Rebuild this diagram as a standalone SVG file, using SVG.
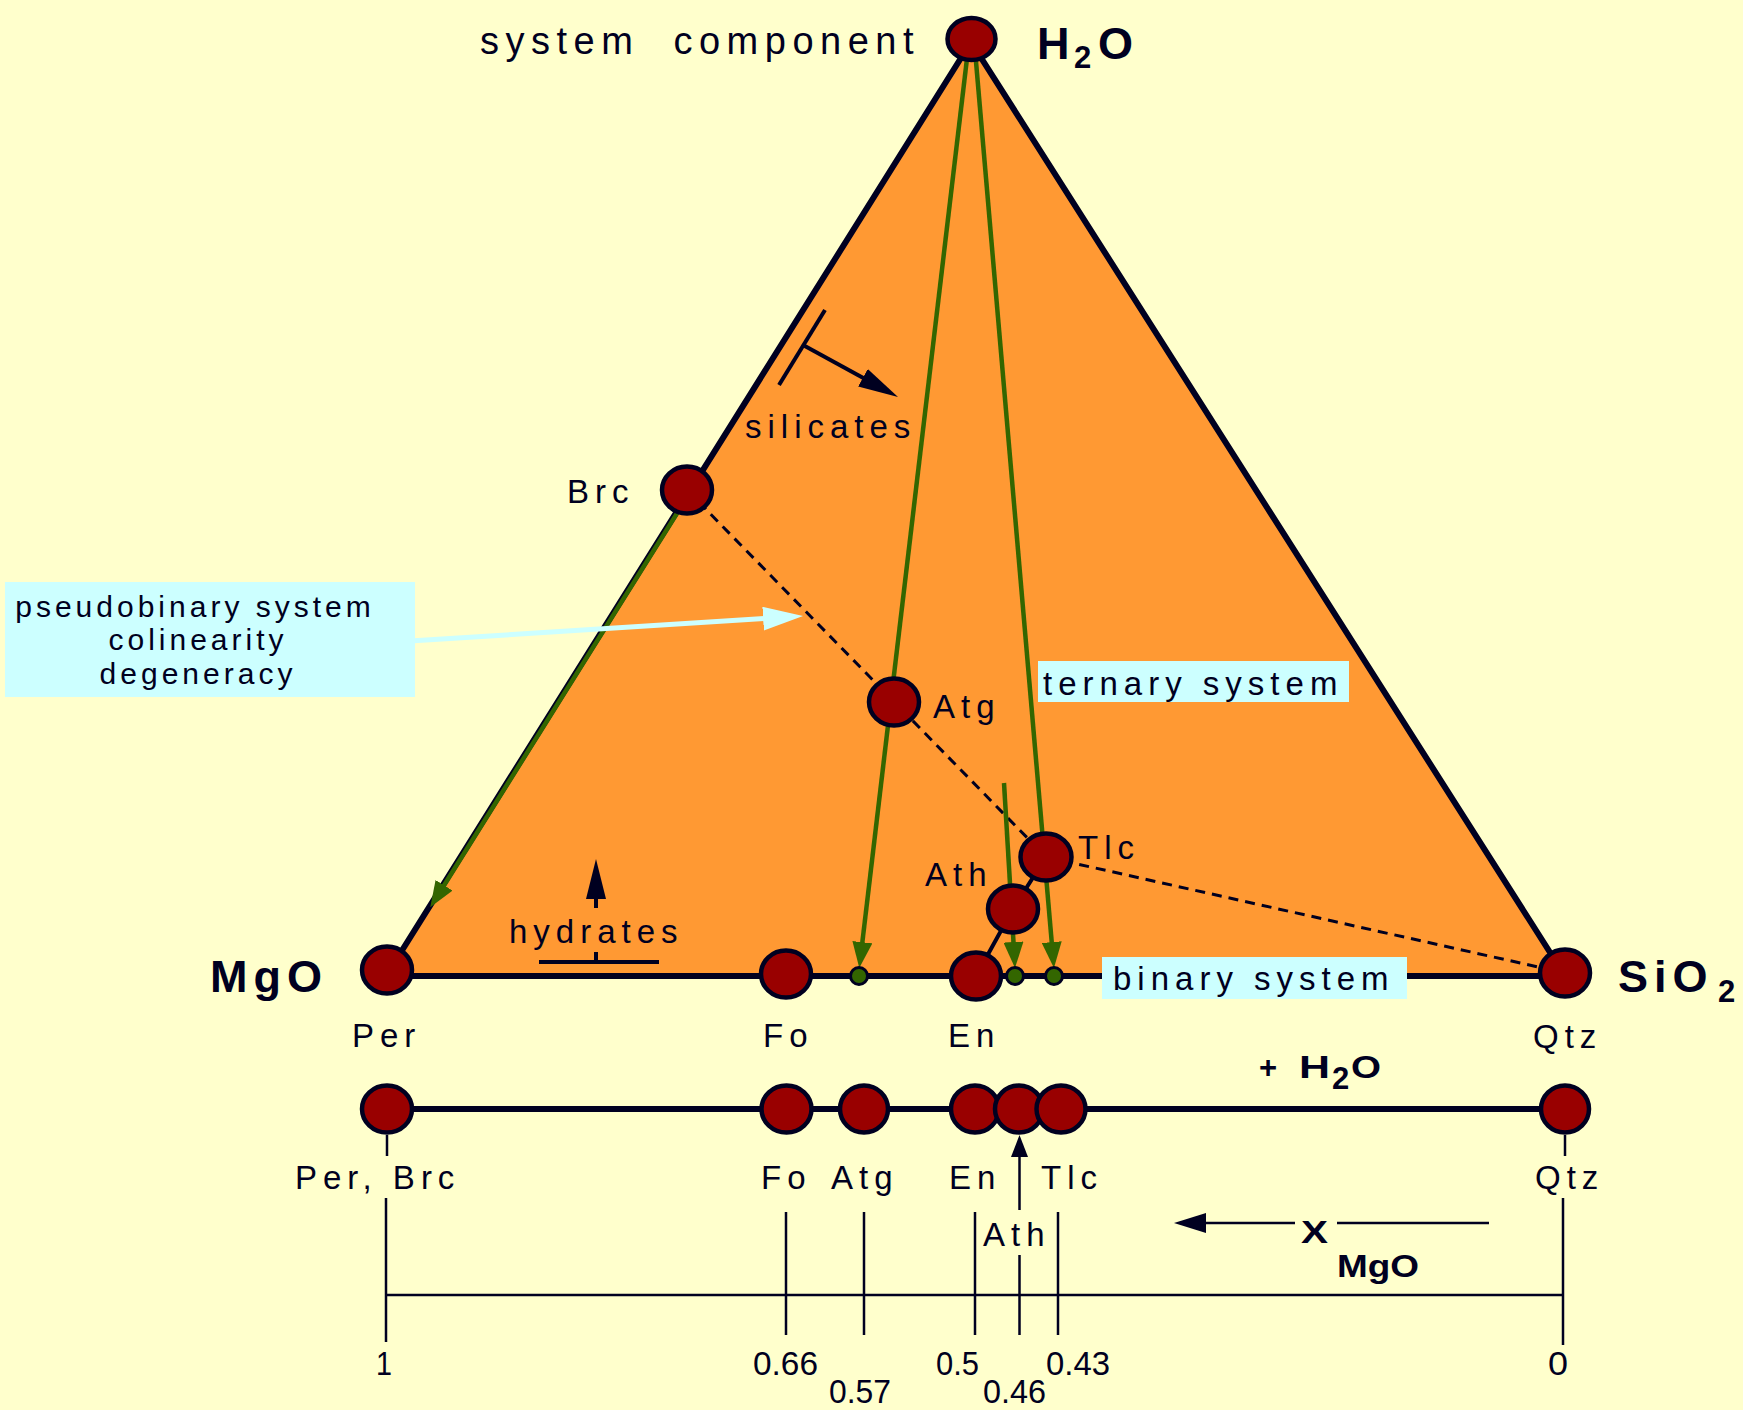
<svg xmlns="http://www.w3.org/2000/svg" width="1743" height="1410" viewBox="0 0 1743 1410">
<style>
text { font-family: "Liberation Sans", Arial, sans-serif; fill: #000020; }
.lbl { font-size: 33px; letter-spacing: 6px; }
.top { font-size: 38px; letter-spacing: 6.5px; }
.box-t { font-size: 30px; letter-spacing: 4px; }
.big { font-size: 45px; font-weight: bold; letter-spacing: 6px; }
.sub { font-size: 31px; font-weight: bold; }
.num { font-size: 33px; }
.node { fill: #990000; stroke: #000020; stroke-width: 4.5; }
.gdot { fill: #336600; stroke: #000020; stroke-width: 3; }
.tri { fill: #FF9933; stroke: #000020; stroke-width: 6; stroke-linejoin: round; }
.dash { stroke: #000020; stroke-width: 3; stroke-dasharray: 10 7; fill: none; }
.green { stroke: #336600; stroke-width: 4.5; fill: none; }
.blk { stroke: #000020; stroke-width: 4; fill: none; }
.thin { stroke: #000020; stroke-width: 2.5; fill: none; }
.axis { stroke: #000020; stroke-width: 6; fill: none; }
.box { fill: #CCFFFF; }
</style>
<defs>
<marker id="garrow" markerUnits="userSpaceOnUse" markerWidth="26" markerHeight="20" viewBox="0 0 26 20" refX="2" refY="10" orient="auto"><path d="M0,0 L26,10 L0,20 z" fill="#336600"/></marker>
<marker id="karrow" markerUnits="userSpaceOnUse" markerWidth="40" markerHeight="20" viewBox="0 0 40 20" refX="2" refY="10" orient="auto"><path d="M0,0 L40,10 L0,20 z" fill="#000020"/></marker>
<marker id="karrow-m" markerUnits="userSpaceOnUse" markerWidth="32" markerHeight="20" viewBox="0 0 32 20" refX="2" refY="10" orient="auto"><path d="M0,0 L32,10 L0,20 z" fill="#000020"/></marker>
<marker id="karrow-s" markerUnits="userSpaceOnUse" markerWidth="22" markerHeight="17" viewBox="0 0 22 17" refX="2" refY="8.5" orient="auto"><path d="M0,0 L22,8.5 L0,17 z" fill="#000020"/></marker>
<marker id="carrow" markerUnits="userSpaceOnUse" markerWidth="40" markerHeight="24" viewBox="0 0 40 24" refX="2" refY="12" orient="auto"><path d="M0,0 L40,12 L0,24 z" fill="#CCFFFF"/></marker>
</defs>
<rect width="1743" height="1410" fill="#FFFFCC"/>

<g id="connectors">
  <polygon id="triangle" class="tri" points="971,42 386,976 1565,976"/>
  <line class="dash" x1="687" y1="490" x2="1046" y2="857"/>
  <line class="dash" x1="1046" y1="857" x2="1565" y2="973"/>
  <line class="green" x1="688.5" y1="495" x2="443" y2="887" stroke-width="5" marker-end="url(#garrow)"/>
  <line class="green" x1="968" y1="50" x2="862.1" y2="944.2" marker-end="url(#garrow)"/>
  <line class="green" x1="975" y1="50" x2="1051.9" y2="944.1" marker-end="url(#garrow)"/>
  <line class="green" x1="1004" y1="783" x2="1013.6" y2="944" marker-end="url(#garrow)"/>
  <polyline class="blk" points="976,976 1013,909 1046,857"/>
  <line class="blk" x1="825" y1="310" x2="779" y2="385"/>
  <line class="blk" x1="803" y1="345" x2="864.7" y2="378.8" stroke-width="3.5" marker-end="url(#karrow)"/>
  <line class="blk" x1="539" y1="962" x2="659" y2="962" stroke-width="3.5"/>
  <line class="blk" x1="596" y1="962" x2="596" y2="952" stroke-width="3.5"/>
  <line class="blk" x1="596" y1="908" x2="596" y2="897" stroke-width="3.5" marker-end="url(#karrow)"/>
  <line class="axis" x1="387" y1="1109" x2="1565" y2="1109"/>
  <line class="thin" x1="387" y1="1135" x2="387" y2="1156"/>
  <line class="thin" x1="1565" y1="1135" x2="1565" y2="1156"/>
  <line class="thin" x1="1019.5" y1="1210" x2="1019.5" y2="1155" stroke-width="3" marker-end="url(#karrow-s)"/>
  <line class="thin" x1="1295" y1="1223" x2="1204" y2="1223" stroke-width="3.5" marker-end="url(#karrow-m)"/>
  <line class="thin" x1="1337" y1="1223" x2="1489" y2="1223" stroke-width="3.5"/>
  <line class="thin" x1="386" y1="1295" x2="1563" y2="1295" stroke-width="3"/>
  <line class="thin" x1="386" y1="1198" x2="386" y2="1342"/>
  <line class="thin" x1="786" y1="1212" x2="786" y2="1335"/>
  <line class="thin" x1="864" y1="1212" x2="864" y2="1335"/>
  <line class="thin" x1="975" y1="1212" x2="975" y2="1335"/>
  <line class="thin" x1="1019.5" y1="1255" x2="1019.5" y2="1335"/>
  <line class="thin" x1="1058" y1="1212" x2="1058" y2="1335"/>
  <line class="thin" x1="1563" y1="1198" x2="1563" y2="1345"/>
</g>

<g id="node-H2O"><ellipse class="node" cx="971.5" cy="39" rx="24" ry="21"/>
  <text class="big" x="1037" y="59">H</text><text class="sub" x="1074" y="68">2</text><text class="big" x="1098" y="59">O</text></g>
<g id="label-system-component"><text class="top" x="480" y="54" xml:space="preserve">system  component</text></g>
<g id="node-Brc"><ellipse class="node" cx="687" cy="490" rx="25" ry="23.5"/><text class="lbl" x="567" y="503">Brc</text></g>
<g id="node-Atg"><ellipse class="node" cx="894" cy="702" rx="25" ry="23.5"/><text class="lbl" x="933" y="718">Atg</text></g>
<g id="node-Tlc"><ellipse class="node" cx="1046" cy="857" rx="25.5" ry="23.5"/><text class="lbl" x="1078" y="859">Tlc</text></g>
<g id="node-Ath"><ellipse class="node" cx="1013" cy="909" rx="25" ry="23.5"/><text class="lbl" x="925" y="886">Ath</text></g>
<g id="node-dots">
  <circle class="gdot" cx="859" cy="976" r="8.5"/>
  <circle class="gdot" cx="1015" cy="976" r="8.5"/>
  <circle class="gdot" cx="1054" cy="976" r="8.5"/>
</g>
<g id="node-Per"><ellipse class="node" cx="387" cy="970" rx="25" ry="23.5"/><text class="lbl" x="352" y="1047">Per</text></g>
<g id="node-MgO"><text class="big" x="210" y="992">MgO</text></g>
<g id="node-Fo"><ellipse class="node" cx="786" cy="974" rx="25" ry="23.5"/><text class="lbl" x="763" y="1047">Fo</text></g>
<g id="node-En"><ellipse class="node" cx="976" cy="976" rx="25" ry="23.5"/><text class="lbl" x="948" y="1047">En</text></g>
<g id="node-Qtz"><ellipse class="node" cx="1565" cy="973" rx="25" ry="23.5"/><text class="lbl" x="1533" y="1048">Qtz</text></g>
<g id="node-SiO2"><text class="big" x="1618" y="992">SiO</text><text class="sub" x="1718" y="1002">2</text></g>

<g id="label-silicates"><text class="lbl" x="745" y="438">silicates</text></g>
<g id="label-hydrates"><text class="lbl" x="509" y="943">hydrates</text></g>
<g id="label-ternary"><rect class="box" x="1038" y="661" width="311" height="41"/><text class="lbl" x="1043" y="695" letter-spacing="5.7">ternary system</text></g>
<g id="label-binary"><rect class="box" x="1102" y="957" width="305" height="42"/><text class="lbl" x="1113" y="990">binary system</text></g>
<g id="label-pseudobinary">
  <line x1="410" y1="641" x2="765.1" y2="618.5" stroke="#CCFFFF" stroke-width="5" marker-end="url(#carrow)"/>
  <rect class="box" x="5" y="582" width="410" height="115"/>
  <text class="box-t" x="195" y="617" text-anchor="middle">pseudobinary system</text>
  <text class="box-t" x="198" y="650" text-anchor="middle">colinearity</text>
  <text class="box-t" x="198" y="684" text-anchor="middle">degeneracy</text>
</g>

<g id="row2">
  <g id="r2-Per"><ellipse class="node" cx="387" cy="1109" rx="25" ry="23.5"/><text class="lbl" x="295" y="1189">Per, Brc</text></g>
  <g id="r2-Fo"><ellipse class="node" cx="786.5" cy="1109" rx="25" ry="23.5"/><text class="lbl" x="761" y="1189">Fo</text></g>
  <g id="r2-Atg"><ellipse class="node" cx="864" cy="1109" rx="24" ry="23.5"/><text class="lbl" x="831" y="1189">Atg</text></g>
  <g id="r2-En"><ellipse class="node" cx="975" cy="1109" rx="24" ry="23.5"/><text class="lbl" x="949" y="1189">En</text></g>
  <g id="r2-Ath"><ellipse class="node" cx="1019" cy="1109" rx="24" ry="23.5"/><text class="lbl" x="983" y="1246">Ath</text></g>
  <g id="r2-Tlc"><ellipse class="node" cx="1061" cy="1109" rx="24.5" ry="23.5"/><text class="lbl" x="1041" y="1189">Tlc</text></g>
  <g id="r2-Qtz"><ellipse class="node" cx="1565" cy="1109" rx="24" ry="23.5"/><text class="lbl" x="1535" y="1189">Qtz</text></g>
  <g id="plus-H2O"><text class="sub" x="1259" y="1078" font-size="35">+</text><text class="sub" x="1299" y="1078" font-size="35" textLength="31" lengthAdjust="spacingAndGlyphs">H</text><text class="sub" x="1332" y="1089" font-size="24">2</text><text class="sub" x="1351" y="1078" font-size="35" textLength="30" lengthAdjust="spacingAndGlyphs">O</text></g>
</g>

<g id="scale">
  <text class="sub" x="1301" y="1243" font-size="43" textLength="27" lengthAdjust="spacingAndGlyphs">X</text>
  <text class="sub" x="1337" y="1277" font-size="35" textLength="82" lengthAdjust="spacingAndGlyphs">MgO</text>
  <text class="num" x="376" y="1375" textLength="16" lengthAdjust="spacingAndGlyphs">1</text>
  <text class="num" x="753" y="1375" textLength="65" lengthAdjust="spacingAndGlyphs">0.66</text>
  <text class="num" x="829" y="1403" textLength="62" lengthAdjust="spacingAndGlyphs">0.57</text>
  <text class="num" x="936" y="1375" textLength="43" lengthAdjust="spacingAndGlyphs">0.5</text>
  <text class="num" x="983" y="1403" textLength="63" lengthAdjust="spacingAndGlyphs">0.46</text>
  <text class="num" x="1046" y="1375" textLength="64" lengthAdjust="spacingAndGlyphs">0.43</text>
  <text class="num" x="1548" y="1375" textLength="20" lengthAdjust="spacingAndGlyphs">0</text>
</g>
</svg>
